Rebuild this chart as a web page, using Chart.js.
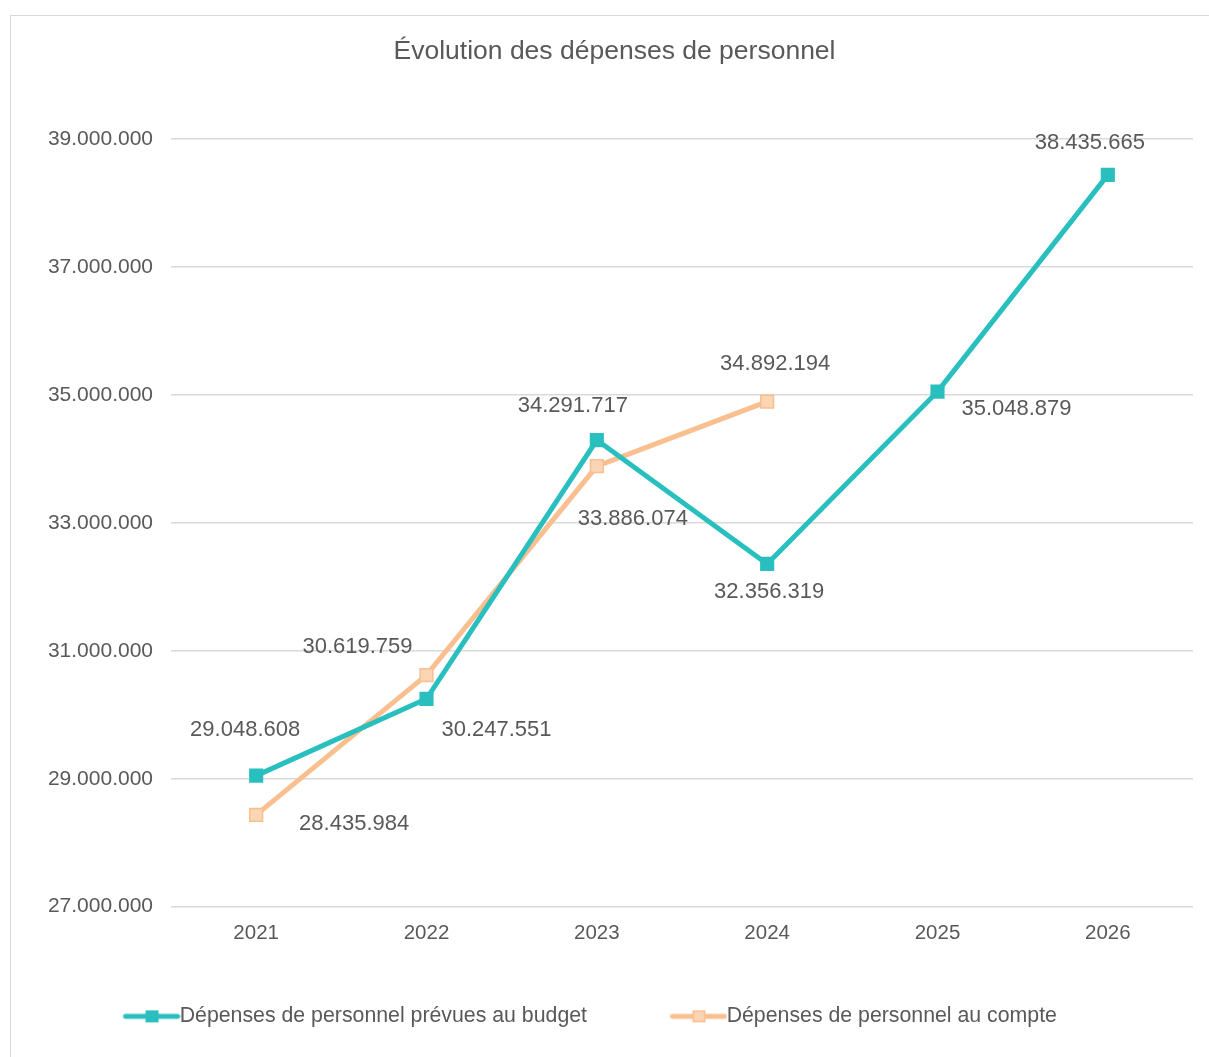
<!DOCTYPE html>
<html>
<head>
<meta charset="utf-8">
<script src="https://cdn.jsdelivr.net/npm/chart.js@4.4.1/dist/chart.umd.min.js"></script>
<style>
  body { margin: 0; background: #fff; }
  #frame { position: absolute; left: 10px; top: 15px; width: 1220px; height: 1060px; border: 1.5px solid #d9d9d9; }
  #wrap { position: absolute; left: 0; top: 0; width: 1209px; height: 1057px; }
</style>
</head>
<body>
<div id="frame"></div>
<div id="wrap"><canvas id="my-chart"></canvas></div>
<script>
'use strict';

// ******* DATA *********
let years = ['2021', '2022', '2023', '2024', '2025', '2026'];
let budgetValues = [29048608, 30247551, 34291717, 32356319, 35048879, 38435665];
let compteValues = [28435984, 30619759, 33886074, 34892194, null, null];
let yTicks = [27000000, 29000000, 31000000, 33000000, 35000000, 37000000, 39000000];

// label offsets from the point, in px (text centre)
let budgetLabelOffsets = [[-11, -46], [70, 31], [-24, -34], [2, 28], [79, 17], [-18, -32]];
let compteLabelOffsets = [[98, 9], [-69, -28], [36, 53], [8, -38]];

const TEAL = '#2abfbf';
const ORANGE = '#f9bf8f';
const ORANGE_FILL = '#fcd5b4';
const TEXT = '#595959';
const FONT = "'Liberation Sans', Arial, sans-serif";

function fmt(v) {
  return String(v).replace(/\B(?=(\d{3})+(?!\d))/g, '.');
}

// legend icon: line with a square, pushed to the right side of a wide box
function legendIcon(lineColor, fillColor, borderColor) {
  let c = document.createElement('canvas');
  c.width = 142;
  c.height = 14;
  let g = c.getContext('2d');
  g.strokeStyle = lineColor;
  g.lineWidth = 5;
  g.lineCap = 'round';
  g.beginPath();
  g.moveTo(87, 7);
  g.lineTo(139, 7);
  g.stroke();
  g.fillStyle = fillColor;
  g.fillRect(107, 1, 13, 12);
  if (borderColor) {
    g.strokeStyle = borderColor;
    g.lineWidth = 1.5;
    g.strokeRect(107.75, 1.75, 11.5, 10.5);
  }
  return c;
}

// ***** DATA LABEL PLUGIN *****
let labelPlugin = {
  id: 'valueLabels',
  afterLayout(chart) {
    // nudge title and legend sideways
    chart.titleBlock.left += 13;
    chart.titleBlock.right += 13;
    chart.legend.left -= 48;
    chart.legend.right -= 48;
  },
  afterDatasetsDraw(chart) {
    let ctx = chart.ctx;
    ctx.save();
    ctx.font = '22px ' + FONT;
    ctx.fillStyle = TEXT;
    ctx.textAlign = 'center';
    ctx.textBaseline = 'middle';
    chart.data.datasets.forEach((ds, i) => {
      let meta = chart.getDatasetMeta(i);
      meta.data.forEach((pt, j) => {
        let v = ds.data[j];
        if (v === null) return;
        let off = ds.labelOffsets[j] || [0, -30];
        ctx.fillText(fmt(v), pt.x + off[0], pt.y + off[1]);
      });
    });
    ctx.restore();
  }
};

let ctx = document.getElementById('my-chart');

let chartObj = {
  type: 'line',
  data: {
    labels: years,
    datasets: [{
      label: 'Dépenses de personnel prévues au budget',
      data: budgetValues,
      labelOffsets: budgetLabelOffsets,
      borderColor: TEAL,
      backgroundColor: TEAL,
      borderWidth: 5,
      pointStyle: 'rect',
      pointRadius: 10,
      pointBackgroundColor: TEAL,
      pointBorderColor: TEAL,
      pointBorderWidth: 0,
      tension: 0,
      legendIcon: legendIcon(TEAL, TEAL, null)
    },
    {
      label: 'Dépenses de personnel au compte',
      data: compteValues,
      labelOffsets: compteLabelOffsets,
      borderColor: ORANGE,
      backgroundColor: ORANGE_FILL,
      borderWidth: 5,
      pointStyle: 'rect',
      pointRadius: 9,
      pointBackgroundColor: ORANGE_FILL,
      pointBorderColor: ORANGE,
      pointBorderWidth: 1.5,
      tension: 0,
      legendIcon: legendIcon(ORANGE, ORANGE_FILL, ORANGE)
    }]
  },
  options: {
    responsive: true,
    maintainAspectRatio: false,
    animation: false,
    layout: {
      padding: { left: 10, right: 16, top: 15, bottom: 20 }
    },
    scales: {
      x: {
        offset: true,
        grid: { display: false, drawTicks: false },
        border: { display: false },
        ticks: { color: TEXT, font: { family: FONT, size: 20.5 }, padding: 14 },
        afterFit(scale) { scale.height = 89; }
      },
      y: {
        min: 27000000,
        max: 39000000,
        afterBuildTicks(scale) {
          scale.ticks = yTicks.map(v => ({ value: v }));
        },
        grid: { color: '#d9d9d9', lineWidth: 1.5, drawTicks: false },
        border: { display: false },
        ticks: {
          color: TEXT,
          font: { family: FONT, size: 21 },
          padding: 18,
          callback: v => fmt(v)
        },
        afterFit(scale) { scale.width = 161; }
      }
    },
    plugins: {
      title: {
        display: true,
        text: 'Évolution des dépenses de personnel',
        color: TEXT,
        font: { family: FONT, size: 26.5, weight: 'normal' },
        padding: { top: 21, bottom: 71 }
      },
      legend: {
        position: 'bottom',
        labels: {
          color: TEXT,
          font: { family: FONT, size: 21.3 },
          usePointStyle: true,
          pointStyleWidth: 119,
          padding: 10,
          generateLabels(chart) {
            return chart.data.datasets.map((ds, i) => ({
              text: ds.label,
              pointStyle: ds.legendIcon,
              fontColor: TEXT,
              datasetIndex: i,
              hidden: false,
              lineWidth: 0
            }));
          }
        }
      },
      tooltip: { enabled: false }
    }
  },
  plugins: [labelPlugin]
};

new Chart(ctx, chartObj); //eslint-disable-line
</script>
</body>
</html>
